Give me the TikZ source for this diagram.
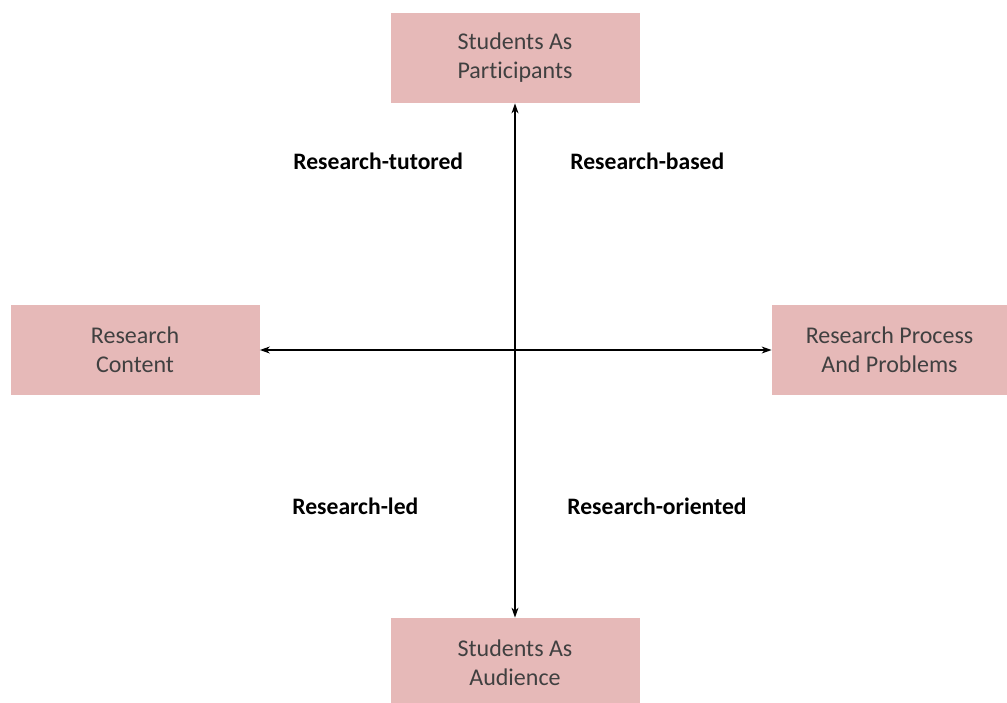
\documentclass[tikz,border=0pt]{standalone}
\usepackage{fontspec}
\setmainfont{Carlito}[Ligatures=NoCommon]
\usepackage{tikz}
\usetikzlibrary{arrows.meta, positioning}
\definecolor{boxpink}{RGB}{230,185,184}
\definecolor{boxtext}{RGB}{64,64,64}

\begin{document}
\begin{tikzpicture}[x=0.5pt, y=-0.5pt,
  quadbox/.style={fill=boxpink, draw=none, minimum width=124.5pt, minimum height=45pt,
                  align=center, text=boxtext, font=\fontsize{12}{14.5}\selectfont},
  quadlabel/.style={anchor=west, font=\bfseries\fontsize{11.8}{14}\selectfont, inner sep=0pt}]

\clip (0,0) rectangle (1007,702);
\useasboundingbox (0,0) rectangle (1007,702);

% Boxes
\node[quadbox] (participants) at (515,58) {Students As\\Participants};
\node[quadbox] (content) at (135,350) {Research\\Content};
\node[quadbox, minimum width=117.5pt] (process) at (889.5,350) {Research Process\\And Problems};
\node[quadbox] (audience) at (515,663) {Students As\\Audience};

% Axes
\draw[{Stealth[length=5pt,width=3.5pt]}-{Stealth[length=5pt,width=3.5pt]}, line width=0.6pt]
  (participants.south) -- (audience.north);
\draw[{Stealth[length=5pt,width=3.5pt]}-{Stealth[length=5pt,width=3.5pt]}, line width=0.6pt]
  (content.east) -- (process.west);

% Quadrant labels
\node[quadlabel] (tutored) at (293,161) {Research-tutored};
\node[quadlabel] (based) at (570,161) {Research-based};
\node[quadlabel] (led) at (292,506) {Research-led};
\node[quadlabel] (oriented) at (567,506) {Research-oriented};

\end{tikzpicture}
\end{document}
